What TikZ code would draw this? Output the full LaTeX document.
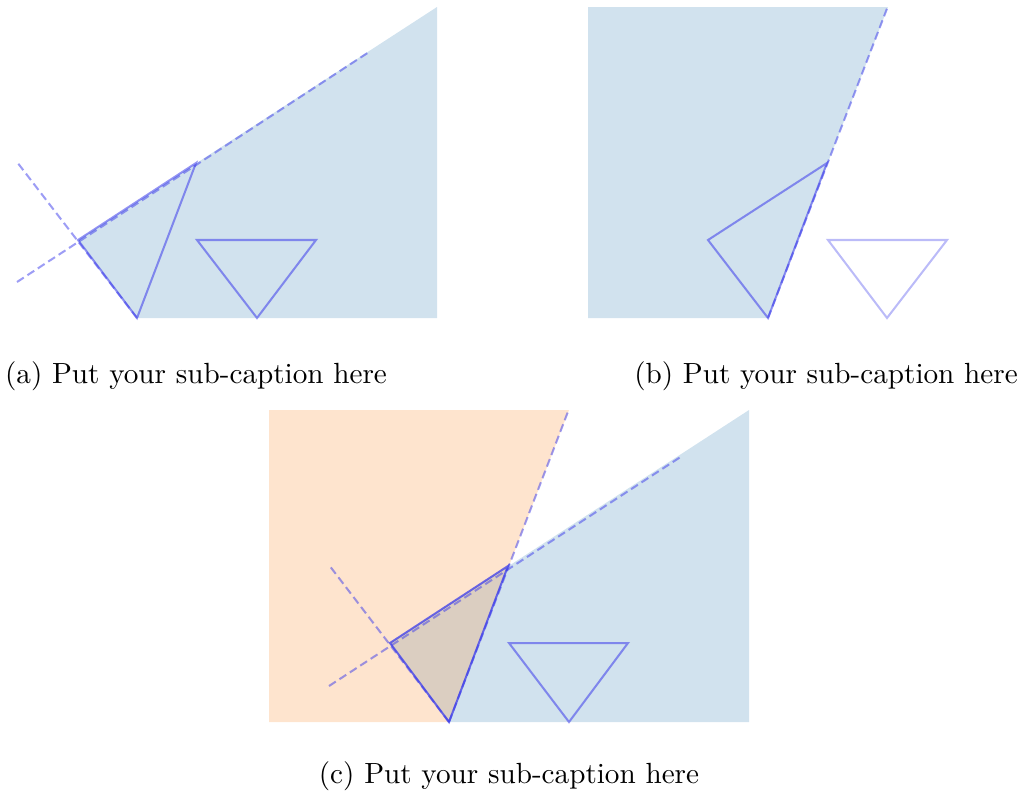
\documentclass[tikz,border=0pt]{standalone}
\usepackage{tikz}
\definecolor{bluefill}{RGB}{209,226,238}
\definecolor{orangefill}{RGB}{254,228,206}
\definecolor{mixfill}{RGB}{219,206,193}
\definecolor{edgeblue}{RGB}{60,60,235}
\begin{document}
\begin{tikzpicture}[x=0.37pt,y=-0.37pt,
  tri/.style={draw=edgeblue,draw opacity=0.55,line width=0.75pt,line join=miter},
  trilight/.style={draw=edgeblue,draw opacity=0.35,line width=0.75pt},
  tridark/.style={draw=edgeblue,draw opacity=0.75,line width=0.75pt},
  dline/.style={draw=edgeblue,draw opacity=0.5,line width=0.75pt,dash pattern=on 3pt off 1.6pt},
  subcap/.style={font=\fontsize{10.8}{13}\selectfont,inner sep=0pt}]
\useasboundingbox (0,0) rectangle (1023,795);
% ---------- panel (a)
\fill[bluefill] (78,240) -- (437,7) -- (437,318) -- (137,318) -- cycle;
\coordinate (a1) at (78,240);
\coordinate (a2) at (196,163);
\coordinate (a3) at (137,318);
\coordinate (a4) at (197,240);
\coordinate (a5) at (316,240);
\coordinate (a6) at (257,318);
\coordinate (aL) at (17,282);
\coordinate (aU) at (369,52);
\coordinate (aP) at (17,162);
\draw[tri] (a1) -- (a2) -- (a3) -- cycle;
\draw[tri] (a4) -- (a5) -- (a6) -- cycle;
\draw[dline] (aL) -- (aU);
\draw[dline] (a3) -- (aP);
\node[subcap,anchor=base] (capa) at (196,383) {(a) Put your sub-caption here};
% ---------- panel (b)
\fill[bluefill] (588,7) -- (888,7) -- (768,318) -- (588,318) -- cycle;
\coordinate (b1) at (708,240);
\coordinate (b2) at (827,163);
\coordinate (b3) at (768,318);
\coordinate (b4) at (828,240);
\coordinate (b5) at (947,240);
\coordinate (b6) at (887,318);
\coordinate (bU) at (888,6);
\draw[tri] (b1) -- (b2) -- (b3) -- cycle;
\draw[trilight] (b4) -- (b5) -- (b6) -- cycle;
\draw[dline] (b3) -- (bU);
\node[subcap,anchor=base] (capb) at (826,383) {(b) Put your sub-caption here};
% ---------- panel (c)
\fill[orangefill] (269,410) -- (569,410) -- (449,722) -- (269,722) -- cycle;
\fill[bluefill] (390,643) -- (749,410) -- (749,722) -- (449,722) -- cycle;
\fill[mixfill] (390,643) -- (508,566) -- (449,722) -- cycle;
\coordinate (c1) at (390,643);
\coordinate (c2) at (508,566);
\coordinate (c3) at (449,722);
\coordinate (c4) at (509,643);
\coordinate (c5) at (628,643);
\coordinate (c6) at (569,722);
\coordinate (cL) at (329,686);
\coordinate (cU) at (682,456);
\coordinate (cP) at (329,565);
\coordinate (cO) at (569,409);
\draw[tridark] (c1) -- (c2) -- (c3) -- cycle;
\draw[tri] (c4) -- (c5) -- (c6) -- cycle;
\draw[dline] (cL) -- (cU);
\draw[dline] (c3) -- (cP);
\draw[dline] (c3) -- (cO);
\node[subcap,anchor=base] (capc) at (509,783) {(c) Put your sub-caption here};
\end{tikzpicture}
\end{document}
